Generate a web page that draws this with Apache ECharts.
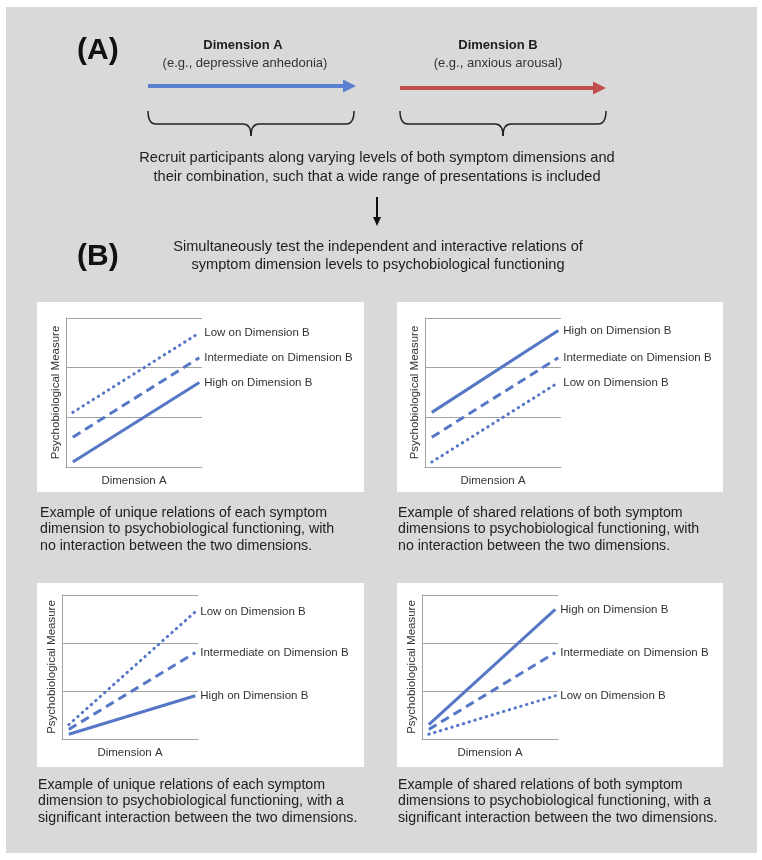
<!DOCTYPE html>
<html>
<head>
<meta charset="utf-8">
<script src="https://cdn.jsdelivr.net/npm/echarts@6/dist/echarts.min.js"></script>
<style>
  html, body { margin: 0; padding: 0; background: #fff; }
  #chart { width: 762px; height: 860px; }
</style>
</head>
<body>
<div id="chart"></div>
<script>
// level of Dimension A at start / end of each line
const xLevels = [0.5, 9.8]
const yTicks = [0, 1, 2, 3]
const seriesNames = ['Low on Dimension B', 'Intermediate on Dimension B', 'High on Dimension B']
// [start, end] per panel (top-left, top-right, bottom-left, bottom-right)
const lowB = [[1.1, 2.7], [0.1, 1.7], [0.3, 2.65], [0.1, 0.9]]
const midB = [[0.6, 2.2], [0.6, 2.2], [0.2, 1.8], [0.2, 1.8]]
const highB = [[0.1, 1.7], [1.1, 2.75], [0.1, 0.9], [0.3, 2.7]]
const captions = [
  'Example of unique relations of each symptom\ndimension to psychobiological functioning, with\nno interaction between the two dimensions.',
  'Example of shared relations of both symptom\ndimensions to psychobiological functioning, with\nno interaction between the two dimensions.',
  'Example of unique relations of each symptom\ndimension to psychobiological functioning, with a\nsignificant interaction between the two dimensions.',
  'Example of shared relations of both symptom\ndimensions to psychobiological functioning, with a\nsignificant interaction between the two dimensions.'
]

const FONT = '"Liberation Sans", Arial, sans-serif'
const lineColor = '#5677c6'
const gridColor = '#a3a3a3'

const grids = [
  { left: 66, top: 318, width: 136, height: 149 },
  { left: 425, top: 318, width: 136, height: 149 },
  { left: 62, top: 595, width: 136, height: 144 },
  { left: 422, top: 595, width: 136, height: 144 }
]
const boxes = [
  [37, 302, 327, 190],
  [397, 302, 326, 190],
  [37, 583, 327, 184],
  [397, 583, 326, 184]
]
const captionPos = [[40, 505], [398, 505], [38, 777], [398, 777]]

function txt(text, x, y, size, opts) {
  const o = opts || {}
  return {
    type: 'text',
    x, y,
    silent: true,
    style: {
      text,
      fill: o.color || '#1e1e1e',
      font: (o.weight || 'normal') + ' ' + size + 'px ' + FONT,
      textAlign: o.align || 'left',
      align: o.align || 'left',
      textVerticalAlign: o.valign || 'middle',
      verticalAlign: o.valign || 'middle',
      lineHeight: o.lineHeight
    }
  }
}

// curly brace built from quadratic curves and straight lines
function brace(x0, x1, y0, y1, tip) {
  const m = (x0 + x1) / 2
  const st = { stroke: '#222', lineWidth: 1.5, fill: null }
  const curve = (ax, ay, bx, by, cx, cy) => ({
    type: 'bezierCurve', silent: true,
    shape: { x1: ax, y1: ay, x2: bx, y2: by, cpx1: cx, cpy1: cy },
    style: st
  })
  const seg = (ax, bx) => ({
    type: 'line', silent: true,
    shape: { x1: ax, y1: y1, x2: bx, y2: y1 },
    style: st
  })
  return [
    curve(x0, y0, x0 + 8, y1, x0, y1),
    seg(x0 + 8, m - 8),
    curve(m - 8, y1, m, tip, m, y1),
    curve(m, tip, m + 8, y1, m, y1),
    seg(m + 8, x1 - 8),
    curve(x1 - 8, y1, x1, y0, x1, y1)
  ]
}

function arrow(x0, x1, y, color, width, head) {
  return [
    { type: 'line', silent: true, shape: { x1: x0, y1: y, x2: x1 - head, y2: y }, style: { stroke: color, lineWidth: width } },
    { type: 'polygon', silent: true, shape: { points: [[x1 - head - 1, y - 6.5], [x1, y], [x1 - head - 1, y + 6.5]] }, style: { fill: color } }
  ]
}

const graphics = [
  { type: 'rect', z: -10, silent: true, shape: { x: 6, y: 7, width: 751, height: 846 }, style: { fill: '#d9d9d9' } }
]
boxes.forEach((b) => {
  graphics.push({ type: 'rect', z: -9, silent: true, shape: { x: b[0], y: b[1], width: b[2], height: b[3] }, style: { fill: '#ffffff' } })
})
graphics.push(
  txt('(A)', 77, 51, 30, { weight: 'bold', color: '#111' }),
  txt('(B)', 77, 257, 30, { weight: 'bold', color: '#111' }),
  txt('Dimension A', 243, 45, 13, { weight: 'bold', align: 'center' }),
  txt('(e.g., depressive anhedonia)', 245, 63, 13, { align: 'center', color: '#333' }),
  txt('Dimension B', 498, 45, 13, { weight: 'bold', align: 'center' }),
  txt('(e.g., anxious arousal)', 498, 63, 13, { align: 'center', color: '#333' }),
  ...arrow(148, 356, 86, '#5b80cf', 4, 12),
  ...arrow(400, 606, 88, '#bf4f4b', 4, 12),
  ...brace(148, 354, 111, 124, 136),
  ...brace(400, 606, 111, 124, 136),
  txt('Recruit participants along varying levels of both symptom dimensions and\ntheir combination, such that a wide range of presentations is included',
    377, 148.5, 14.6, { align: 'center', valign: 'top', lineHeight: 19 }),
  { type: 'line', silent: true, shape: { x1: 377, y1: 197, x2: 377, y2: 219 }, style: { stroke: '#111', lineWidth: 2 } },
  { type: 'polygon', silent: true, shape: { points: [[373, 217], [377, 226], [381, 217]] }, style: { fill: '#111' } },
  txt('Simultaneously test the independent and interactive relations of\nsymptom dimension levels to psychobiological functioning',
    378, 237.5, 14.6, { align: 'center', valign: 'top', lineHeight: 18.5 })
)
captions.forEach((c, i) => {
  graphics.push(txt(c, captionPos[i][0], captionPos[i][1], 14.2, { valign: 'top', lineHeight: 16.3, color: '#222' }))
})

const xAxes = grids.map((g, i) => ({
  type: 'value', gridIndex: i, min: 0, max: 10,
  name: 'Dimension A', nameLocation: 'middle', nameGap: 8,
  nameTextStyle: { fontFamily: FONT, fontSize: 11.5, color: '#333' },
  axisLine: { show: true, lineStyle: { color: gridColor, width: 1 } },
  axisTick: { show: false }, axisLabel: { show: false }, splitLine: { show: false }
}))
const yAxes = grids.map((g, i) => ({
  type: 'value', gridIndex: i, min: yTicks[0], max: yTicks[yTicks.length - 1], interval: 1,
  name: 'Psychobiological Measure', nameLocation: 'middle', nameGap: 4,
  nameTextStyle: { fontFamily: FONT, fontSize: 11.5, color: '#333' },
  axisLine: { show: true, lineStyle: { color: gridColor, width: 1 } },
  axisTick: { show: false }, axisLabel: { show: false },
  splitLine: { show: true, lineStyle: { color: gridColor, width: 1 } }
}))

const styles = [
  { type: [0.5, 5.5], cap: 'round' },
  { type: [9, 5.5], cap: 'butt' },
  { type: 'solid', cap: 'butt' }
]
const series = []
grids.forEach((g, i) => {
  [lowB[i], midB[i], highB[i]].forEach((vals, k) => {
    series.push({
      name: seriesNames[k],
      type: 'line',
      xAxisIndex: i,
      yAxisIndex: i,
      symbol: 'none',
      silent: true,
      data: xLevels.map((x, j) => [x, vals[j]]),
      lineStyle: { color: lineColor, width: 3, type: styles[k].type, cap: styles[k].cap },
      endLabel: {
        show: true,
        formatter: '{a}',
        distance: 5,
        fontFamily: FONT,
        fontSize: 11.5,
        color: '#333'
      }
    })
  })
})

const myChart = echarts.init(document.getElementById('chart'))
myChart.setOption({
  backgroundColor: '#ffffff',
  animation: false,
  grid: grids,
  xAxis: xAxes,
  yAxis: yAxes,
  graphic: { elements: graphics },
  series
})
window.addEventListener('resize', () => {
  myChart.resize()
})
</script>
</body>
</html>
